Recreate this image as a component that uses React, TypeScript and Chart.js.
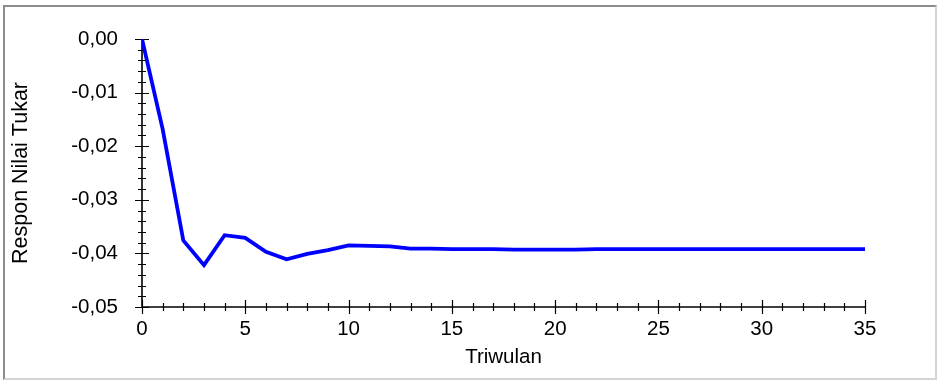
import React, { useEffect, useRef } from "react";
import { Chart, registerables } from "chart.js";

Chart.register(...registerables);

// ---- data ----
const quarters = [
  0, 1, 2, 3, 4, 5, 6, 7, 8, 9, 10, 11, 12, 13, 14, 15, 16, 17,
  18, 19, 20, 21, 22, 23, 24, 25, 26, 27, 28, 29, 30, 31, 32, 33, 34, 35,
];
const response = [
  0.0, -0.0168, -0.0376, -0.0422, -0.0366, -0.0371, -0.0397, -0.0411,
  -0.0401, -0.0394, -0.0385, -0.0386, -0.0387, -0.0391, -0.0391, -0.0392,
  -0.0392, -0.0392, -0.0393, -0.0393, -0.0393, -0.0393, -0.0392, -0.0392,
  -0.0392, -0.0392, -0.0392, -0.0392, -0.0392, -0.0392, -0.0392, -0.0392,
  -0.0392, -0.0392, -0.0392, -0.0392,
];
const xTickValues = [0, 5, 10, 15, 20, 25, 30, 35];
const yTickValues = [0, -0.01, -0.02, -0.03, -0.04, -0.05];
const xMinorStep = 1;
const yMinorStep = 0.002;
const xAxisTitle = "Triwulan";
const yAxisTitle = "Respon Nilai Tukar";

const FONT = "'Liberation Sans', Arial, sans-serif";

const fmtY = (v: number) =>
  Math.abs(v) < 1e-9 ? "0,00" : v.toFixed(2).replace(".", ",");

const crossTicks = {
  id: "crossTicks",
  beforeDatasetsDraw(chart: any) {
    const { ctx } = chart;
    const xs = chart.scales.x;
    const ys = chart.scales.y;
    const xMin = xs.min, xMax = xs.max, yMin = ys.min, yMax = ys.max;
    const ax = xs.getPixelForValue(xMin);
    const ay = ys.getPixelForValue(yMin);
    const xr = xs.getPixelForValue(xMax);
    const yt = ys.getPixelForValue(yMax);
    ctx.save();
    ctx.strokeStyle = "#000";
    ctx.lineWidth = 1.6;
    ctx.beginPath();
    ctx.moveTo(ax, ay);
    ctx.lineTo(ax, yt);
    ctx.moveTo(ax, ay);
    ctx.lineTo(xr, ay);
    ctx.stroke();
    ctx.lineWidth = 1.2;
    ctx.beginPath();
    const nY = Math.round((yMax - yMin) / yMinorStep);
    for (let i = 0; i <= nY; i++) {
      const v = yMin + i * yMinorStep;
      const p = Math.round(ys.getPixelForValue(v)) + 0.5;
      const major = yTickValues.some((t) => Math.abs(t - v) < 1e-9);
      const l = major ? 7 : 4;
      ctx.moveTo(ax - l, p);
      ctx.lineTo(ax + l, p);
    }
    const nX = Math.round((xMax - xMin) / xMinorStep);
    for (let i = 0; i <= nX; i++) {
      const v = xMin + i * xMinorStep;
      const p = Math.round(xs.getPixelForValue(v)) + 0.5;
      const major = xTickValues.some((t) => Math.abs(t - v) < 1e-9);
      const l = major ? 7 : 4;
      ctx.moveTo(p, ay - l);
      ctx.lineTo(p, ay + l);
    }
    ctx.stroke();
    ctx.restore();
  },
};

export default function App() {
  const ref = useRef<HTMLCanvasElement | null>(null);
  useEffect(() => {
    if (!ref.current) return;
    const chart = new Chart(ref.current, {
      type: "line",
      data: {
        datasets: [
          {
            data: quarters.map((q, i) => ({ x: q, y: response[i] })),
            borderColor: "#0000FF",
            borderWidth: 3.8,
            pointRadius: 0,
            fill: false,
            tension: 0,
            borderJoinStyle: "miter",
          },
        ],
      },
      options: {
        animation: false,
        responsive: false,
        maintainAspectRatio: false,
        layout: { padding: { top: 39, right: 75, bottom: 0, left: 0 } },
        plugins: {
          legend: { display: false },
          tooltip: { enabled: false },
        },
        scales: {
          x: {
            type: "linear",
            min: 0,
            max: 35,
            grid: { display: false, drawTicks: false, tickLength: 0 },
            border: { display: false },
            afterFit: (s: any) => {
              s.height = 75;
            },
            afterBuildTicks: (s: any) => {
              s.ticks = xTickValues.map((v) => ({ value: v }));
            },
            ticks: {
              padding: 10,
              color: "#000",
              font: { family: FONT, size: 20.5 },
              maxRotation: 0,
              callback: (v: any) => String(v),
            },
            title: {
              display: true,
              text: xAxisTitle,
              color: "#000",
              font: { family: FONT, size: 20.5 },
              padding: { top: 0, bottom: 12 },
            },
          },
          y: {
            type: "linear",
            min: -0.05,
            max: 0,
            grid: { display: false, drawTicks: false, tickLength: 0 },
            border: { display: false },
            afterFit: (s: any) => {
              s.width = 142;
            },
            afterBuildTicks: (s: any) => {
              s.ticks = yTickValues.map((v) => ({ value: v }));
            },
            ticks: {
              padding: 24,
              color: "#000",
              font: { family: FONT, size: 20.5 },
              callback: (v: any) => fmtY(Number(v)),
            },
            title: {
              display: true,
              text: yAxisTitle,
              color: "#000",
              font: { family: FONT, size: 21.5 },
              padding: { top: 8, bottom: 0 },
            },
          },
        },
      },
      plugins: [crossTicks],
    } as any);
    return () => chart.destroy();
  }, []);

  return (
    <div
      style={{
        position: "fixed",
        left: 0,
        top: 0,
        width: 940,
        height: 382,
        background: "#fff",
      }}
    >
      <div
        style={{
          position: "absolute",
          left: 3,
          top: 5,
          width: 934,
          height: 375,
          boxSizing: "border-box",
          borderTop: "2px solid #8c8c8c",
          borderLeft: "2px solid #8c8c8c",
          borderRight: "2px solid #d4d4d4",
          borderBottom: "2px solid #d4d4d4",
        }}
      />
      <canvas
        ref={ref}
        width={940}
        height={382}
        style={{ position: "absolute", left: 0, top: 0, width: 940, height: 382 }}
      />
    </div>
  );
}
